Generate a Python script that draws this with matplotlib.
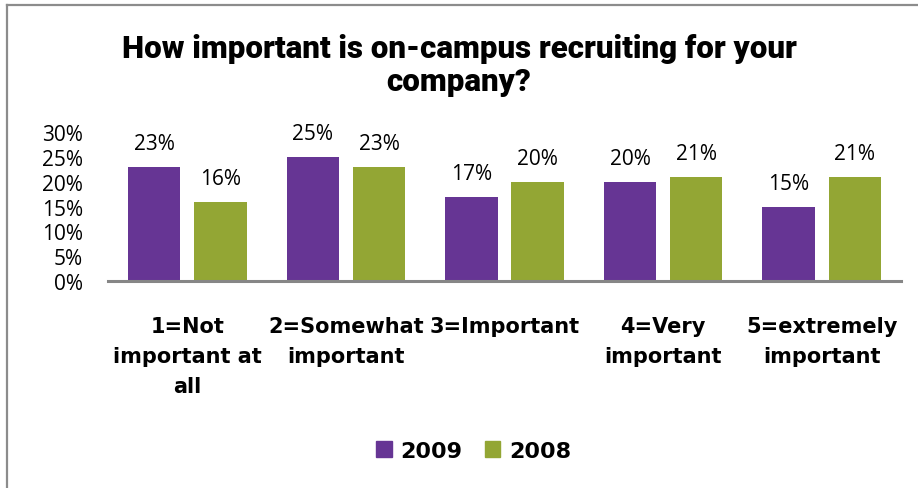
import matplotlib.pyplot as plt
import numpy as np
from matplotlib.lines import Line2D
from matplotlib.patches import Patch

categories = ['1=Not\nimportant at\nall', '2=Somewhat\nimportant', '3=Important',
              '4=Very\nimportant', '5=extremely\nimportant']
vals_2009 = [23, 25, 17, 20, 15]
vals_2008 = [16, 23, 20, 21, 21]
yticks = [0, 5, 10, 15, 20, 25, 30]

purple = '#663594'
green = '#93A634'

fig = plt.figure(figsize=(9.18, 4.89), dpi=100)
ax = fig.add_axes([0.1176, 0.4233, 0.8639, 0.3047])

x = np.arange(len(categories))
w = 0.33
off = 0.209
b1 = ax.bar(x - off, vals_2009, w, color=purple, label='2009')
b2 = ax.bar(x + off, vals_2008, w, color=green, label='2008')

for bars, vals in ((b1, vals_2009), (b2, vals_2008)):
    for r, v in zip(bars, vals):
        ax.annotate(f'{v}%', (r.get_x() + r.get_width() / 2, v),
                    xytext=(0, 9), textcoords='offset points',
                    ha='center', va='bottom', fontsize=15, family='Open Sans')

ax.set_xlim(-0.5, len(categories) - 0.5)
ax.set_ylim(0, 30)
ax.set_yticks(yticks)
ax.set_yticklabels([f'{t}%' for t in yticks], fontsize=15, family='Open Sans')
ax.set_xticks(x)
ax.set_xticklabels(categories, fontsize=15, fontweight='bold', family='DejaVu Sans',
                   linespacing=1.63, va='top')
ax.tick_params(axis='y', length=0, pad=18)
ax.tick_params(axis='x', length=0, pad=25)
for s in ('top', 'right', 'left'):
    ax.spines[s].set_visible(False)
ax.spines['bottom'].set_color('#868686')
ax.spines['bottom'].set_linewidth(2.2)

fig.text(0.5, 0.866, 'How important is on-campus recruiting for your\ncompany?',
         ha='center', va='center', fontsize=22.5, fontweight='black',
         family='Roboto', linespacing=1.1)

handles = [Patch(color=purple, label='2009'), Patch(color=green, label='2008')]
fig.legend(handles=handles, loc='center', bbox_to_anchor=(0.516, 0.0757), ncol=2,
           frameon=False, handlelength=0.7, handleheight=0.7, handletextpad=0.4,
           columnspacing=1.0, prop={'family': 'DejaVu Sans', 'weight': 'bold', 'size': 16})

# outer frame, only top and left edges are drawn
fig.add_artist(Line2D([7 / 918, 1], [1 - 6 / 489] * 2, color='#8c8c8c', lw=1.6,
                      transform=fig.transFigure))
fig.add_artist(Line2D([7 / 918] * 2, [0, 1 - 6 / 489], color='#8c8c8c', lw=1.6,
                      transform=fig.transFigure))

fig.savefig('out.png', dpi=100)
